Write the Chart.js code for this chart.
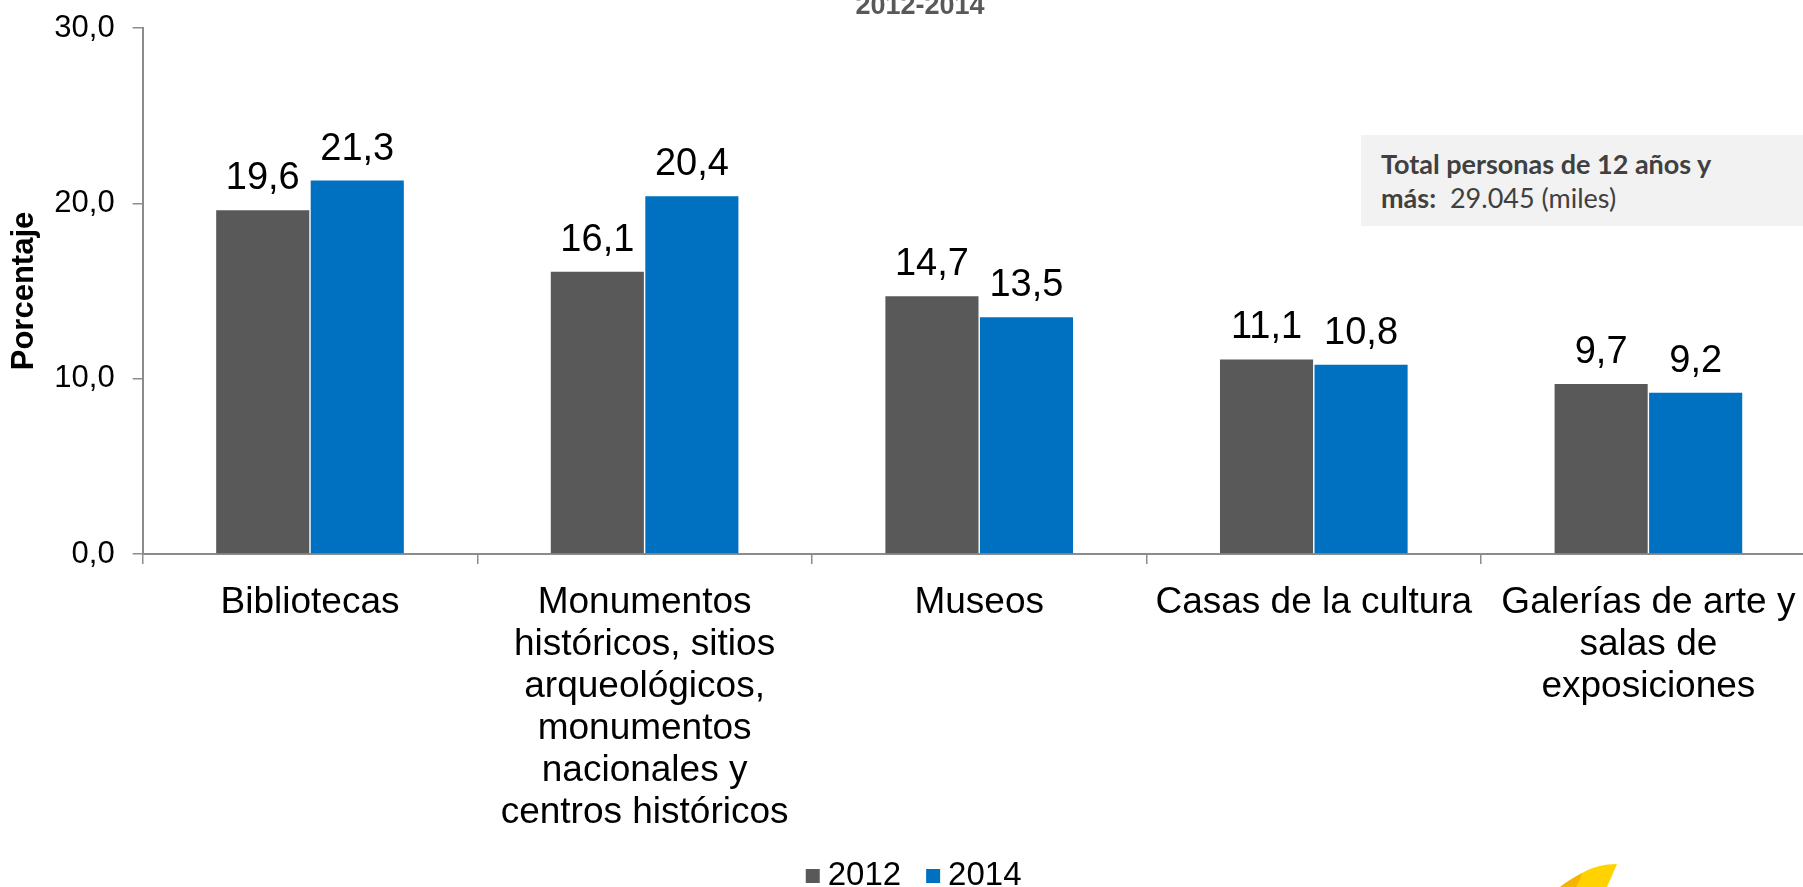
<!DOCTYPE html>
<html lang="es">
<head>
<meta charset="utf-8">
<title>Asistencia a espacios culturales 2012-2014</title>
<script src="https://cdn.jsdelivr.net/npm/chart.js@4/dist/chart.umd.min.js"></script>
<style>
  html, body { margin: 0; padding: 0; background: #ffffff; overflow: hidden; width: 1803px; height: 887px; }
  #wrap { position: relative; width: 1803px; height: 887px; overflow: hidden; }
  #c { position: absolute; left: 0; top: 0; }
  #title { position: absolute; left: 720px; width: 400px; top: -10px; text-align: center;
           font: bold 27px 'Liberation Sans', Arial, sans-serif; line-height: 30px; color: #595959; }
  #note { position: absolute; left: 1361px; top: 135px; width: 460px; height: 91px; background: #f2f2f2;
          font-family: Lato, 'Open Sans', sans-serif; font-size: 27px; color: #404040; line-height: 34px;
          box-sizing: border-box; padding: 12px 0 0 20px; }
  #note b { font-weight: bold; }
  #logo { position: absolute; left: 1550px; top: 860px; }
</style>
</head>
<body>
<div id="wrap">
  <canvas id="c" width="1830" height="902"></canvas>
  <div id="title">2012-2014</div>
  <div id="note"><b>Total personas de 12 años y</b><br><b>más:</b>&nbsp; 29.045 (miles)</div>
  <svg id="logo" width="80" height="30" viewBox="0 0 80 30">
    <path d="M67 4 C55 4 42 7 32 13 L10 27 L57 27 Z" fill="#FFD200"/>
    <path d="M32 13 C24 17 16 22 10 27 L26 27 L30 19 Z" fill="#F5B400"/>
  </svg>
</div>
<script>
const categories = [
  'Bibliotecas',
  ['Monumentos', 'históricos, sitios', 'arqueológicos,', 'monumentos', 'nacionales y', 'centros históricos'],
  'Museos',
  'Casas de la cultura',
  ['Galerías de arte y', 'salas de', 'exposiciones']
];
const seriesNames = ['2012', '2014'];
const values2012 = [19.6, 16.1, 14.7, 11.1, 9.7];
const values2014 = [21.3, 20.4, 13.5, 10.8, 9.2];
const yTicks = [0, 10, 20, 30];
const yAxisTitle = 'Porcentaje';
const seriesColors = ['#595959', '#0070C0'];

const fmt = v => Number(v).toFixed(1).replace('.', ',');
const FONT = "'Liberation Sans', Arial, sans-serif";
Chart.defaults.font.family = FONT;
Chart.defaults.color = '#000000';

// Legend swatch: small square sitting close to its label
function swatch(color) {
  const c = document.createElement('canvas');
  c.width = 30; c.height = 14;
  const g = c.getContext('2d');
  g.fillStyle = color;
  g.fillRect(10, 0, 14, 14);
  return c;
}
const swatches = seriesColors.map(swatch);

const valueLabels = {
  id: 'valueLabels',
  afterDatasetsDraw(chart) {
    const ctx = chart.ctx;
    ctx.save();
    ctx.font = '38px ' + FONT;
    ctx.fillStyle = '#000000';
    ctx.textAlign = 'center';
    ctx.textBaseline = 'alphabetic';
    chart.data.datasets.forEach((ds, i) => {
      chart.getDatasetMeta(i).data.forEach((bar, j) => {
        ctx.fillText(fmt(ds.data[j]), bar.x, bar.y - 21);
      });
    });
    ctx.restore();
  }
};

const axisGray = '#8c8c8c';
const PAD_LEFT = 16;
const LEG_PAD = 29.5;

new Chart(document.getElementById('c'), {
  type: 'bar',
  data: {
    labels: categories,
    datasets: [
      { label: seriesNames[0], data: values2012, backgroundColor: seriesColors[0],
        categoryPercentage: 0.565, barPercentage: 0.985 },
      { label: seriesNames[1], data: values2014, backgroundColor: seriesColors[1],
        categoryPercentage: 0.565, barPercentage: 0.985 }
    ]
  },
  options: {
    responsive: false,
    animation: false,
    devicePixelRatio: 1,
    layout: { padding: { top: 28, left: PAD_LEFT, right: 14.3, bottom: 0 } },
    plugins: {
      title: { display: false },
      tooltip: { enabled: false },
      legend: {
        position: 'bottom',
        labels: {
          usePointStyle: true, boxWidth: 1, boxHeight: 14, padding: LEG_PAD, color: '#000000',
          font: { size: 33, family: FONT },
          generateLabels: chart => Chart.defaults.plugins.legend.labels.generateLabels(chart)
            .map((it, i) => Object.assign(it, { pointStyle: swatches[i] }))
        }
      }
    },
    scales: {
      x: {
        grid: { offset: true, drawOnChartArea: false, drawTicks: true, tickLength: 10,
                color: axisGray, lineWidth: 1.5 },
        border: { display: true, color: axisGray, width: 2 },
        ticks: { color: '#000000', padding: 18, maxRotation: 0, autoSkip: false,
                 font: { size: 37, family: FONT, lineHeight: '42px' } },
        afterFit: s => { s.height = 902 - (33 + LEG_PAD + 10) - 554; }
      },
      y: {
        min: 0, max: 30,
        afterBuildTicks: s => { s.ticks = yTicks.map(v => ({ value: v })); },
        grid: { drawOnChartArea: false, drawTicks: true, tickLength: 10,
                color: axisGray, lineWidth: 1.5 },
        border: { display: true, color: axisGray, width: 2 },
        ticks: { color: '#000000', padding: 18, callback: v => fmt(v),
                 font: { size: 31, family: FONT, lineHeight: 0.5 } },
        title: { display: true, text: yAxisTitle, color: '#000000',
                 padding: { top: 24 - PAD_LEFT - 18.6, bottom: 0 },
                 font: { size: 31, weight: 'bold', family: FONT } },
        afterFit: s => { s.width = 142.7 - PAD_LEFT; }
      }
    }
  },
  plugins: [valueLabels]
});
</script>
</body>
</html>
